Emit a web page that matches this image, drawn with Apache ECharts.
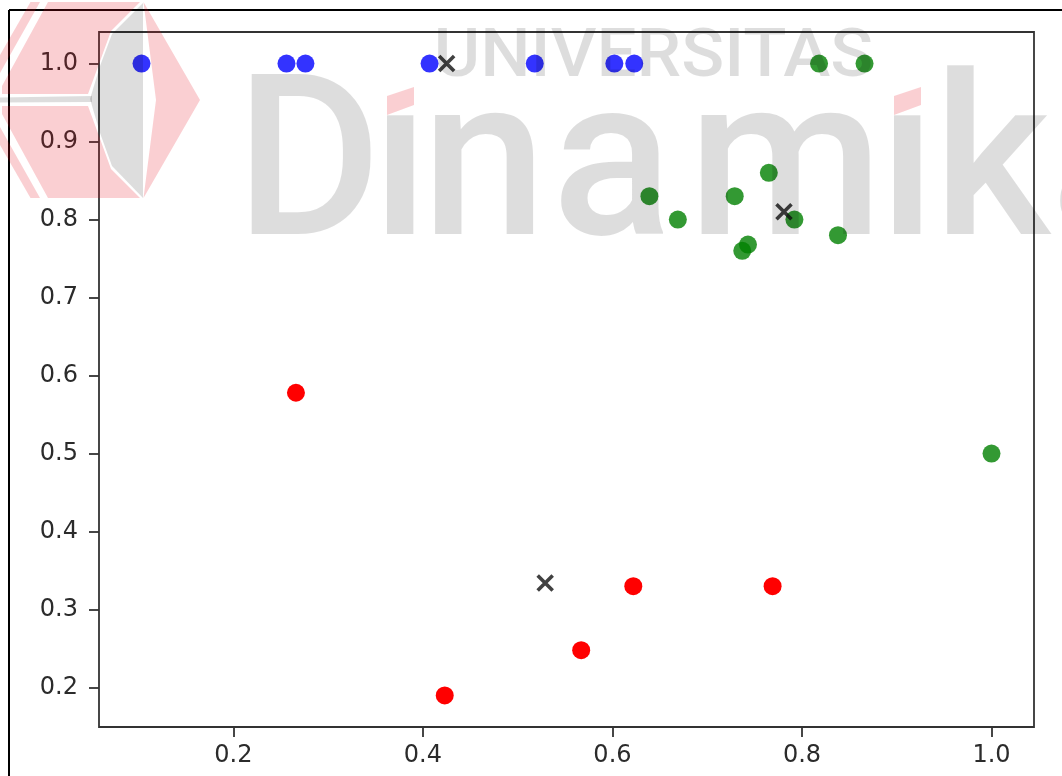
<!DOCTYPE html>
<html>
<head>
<meta charset="utf-8">
<script src="https://cdn.jsdelivr.net/npm/echarts@6/dist/echarts.min.js"></script>
<style>
  html, body { margin: 0; padding: 0; background: #ffffff; }
  #chart { width: 1062px; height: 776px; }
</style>
</head>
<body>
<div id="chart"></div>
<script>
// Cluster 1 (blue)
const blueX = [0.103, 0.256, 0.276, 0.407, 0.518, 0.602, 0.623];
const blueY = [1.0, 1.0, 1.0, 1.0, 1.0, 1.0, 1.0];
// Cluster 2 (green)
const greenX = [0.818, 0.866, 0.639, 0.669, 0.729, 0.765, 0.792, 0.743, 0.737, 0.838, 1.0];
const greenY = [1.0, 1.0, 0.83, 0.80, 0.83, 0.86, 0.80, 0.768, 0.76, 0.78, 0.50];
// Cluster 3 (red)
const redX = [0.266, 0.423, 0.567, 0.622, 0.769];
const redY = [0.578, 0.19, 0.248, 0.33, 0.33];
// Cluster centroids
const centroidX = [0.425, 0.781, 0.529];
const centroidY = [1.0, 0.810, 0.334];
// Tick values
const xTicks = [0.2, 0.4, 0.6, 0.8, 1.0];
const yTicks = [0.2, 0.3, 0.4, 0.5, 0.6, 0.7, 0.8, 0.9, 1.0];

const pairs = (xs, ys) => xs.map((x, i) => [x, ys[i]]);
const pad = e => (e.max - e.min) * 0.05;

const axisColor = '#333333';
const labelFont = { fontFamily: 'DejaVu Sans', fontSize: 24, color: '#2b2b2b' };

// Watermark pieces
const wmGrey = 'rgba(0,0,0,0.135)';
const wmPink = 'rgba(232,16,30,0.2)';
const bigFont = '500 224px Roboto, "Open Sans", sans-serif';
const bigLetters = [
  ['D', 308.5], ['\u0131', 400.5], ['n', 484], ['a', 612],
  ['m', 785.5], ['\u0131', 907.5], ['k', 992], ['a', 1111]
];
const letterEls = bigLetters.map(([ch, cx]) => ({
  type: 'text', z: 100, silent: true,
  style: { text: ch, x: cx, y: 178, font: bigFont, fill: wmGrey, align: 'center', verticalAlign: 'middle' }
}));
const dotShape = dx => ({
  type: 'polygon', z: 100, silent: true,
  shape: { points: [[387 + dx, 115], [387 + dx, 96], [414 + dx, 87], [414 + dx, 105]] },
  style: { fill: wmPink }
});
const poly = (points, fill) => ({ type: 'polygon', z: 100, silent: true, shape: { points }, style: { fill } });

const chart = echarts.init(document.getElementById('chart'), null, { renderer: 'canvas' });
chart.setOption({
  animation: false,
  backgroundColor: '#ffffff',
  grid: {
    left: 99, top: 32, right: 28, bottom: 49,
    show: true, borderColor: axisColor, borderWidth: 1.8, backgroundColor: 'transparent'
  },
  xAxis: {
    type: 'value',
    min: e => e.min - pad(e),
    max: e => e.max + pad(e),
    splitLine: { show: false },
    axisLine: { show: false },
    axisTick: { show: true, length: 10, customValues: xTicks, lineStyle: { color: axisColor, width: 1.8 } },
    axisLabel: Object.assign({ customValues: xTicks, margin: 17, formatter: v => v.toFixed(1) }, labelFont)
  },
  yAxis: {
    type: 'value',
    min: e => e.min - pad(e),
    max: e => e.max + pad(e),
    splitLine: { show: false },
    axisLine: { show: false },
    axisTick: { show: true, length: 10, customValues: yTicks, lineStyle: { color: axisColor, width: 1.8 } },
    axisLabel: Object.assign({ customValues: yTicks, margin: 21, formatter: v => v.toFixed(1) }, labelFont)
  },
  series: [
    { type: 'scatter', data: pairs(blueX, blueY), symbolSize: 18,
      itemStyle: { color: '#0000ff', opacity: 0.8 } },
    { type: 'scatter', data: pairs(greenX, greenY), symbolSize: 18,
      itemStyle: { color: '#008000', opacity: 0.8 } },
    { type: 'scatter', data: pairs(redX, redY), symbolSize: 18,
      itemStyle: { color: '#ff0000', opacity: 1 } },
    { type: 'scatter', data: pairs(centroidX, centroidY), symbolSize: 15,
      symbol: 'path://M0,0L10,10M10,0L0,10',
      itemStyle: { color: 'rgba(0,0,0,0)', borderColor: '#111111', borderWidth: 3.6 } }
  ],
  graphic: [
    // outer frame
    { type: 'line', z: 50, silent: true, shape: { x1: 9, y1: 10, x2: 9, y2: 776 }, style: { stroke: '#000', lineWidth: 2 } },
    { type: 'line', z: 50, silent: true, shape: { x1: 9, y1: 10, x2: 1062, y2: 10 }, style: { stroke: '#000', lineWidth: 2 } },
    // emblem: pink facets
    poly([[30.5, 2], [40, 2], [-4, 80], [-26, 100]], wmPink),
    poly([[48, 2], [140, 2], [111, 31], [99, 64], [88, 94], [2, 94], [2, 86]], wmPink),
    poly([[2, 106], [88, 106], [99, 136], [111, 169], [140, 198], [48, 198], [2, 114]], wmPink),
    poly([[-26, 100], [-4, 120], [40, 198], [30.5, 198]], wmPink),
    poly([[143.5, 2], [200, 100], [143.5, 198], [156, 100]], wmPink),
    // emblem: grey facets
    poly([[143, 3], [143, 198], [112, 166], [100, 133], [90, 99], [100, 66], [112, 34]], wmGrey),
    poly([[92, 96], [0, 97.5], [0, 102.5], [92, 102]], wmGrey),
    // lettering
    { type: 'text', z: 100, silent: true, x: 653.5, y: 59, scaleX: 1.075,
      style: { text: 'UNIVERSITAS', x: 0, y: 0, font: '500 66px Roboto, "Open Sans", sans-serif',
               fill: wmGrey, align: 'center', verticalAlign: 'middle' } },
    ...letterEls,
    dotShape(0), dotShape(507)
  ]
});
</script>
</body>
</html>
